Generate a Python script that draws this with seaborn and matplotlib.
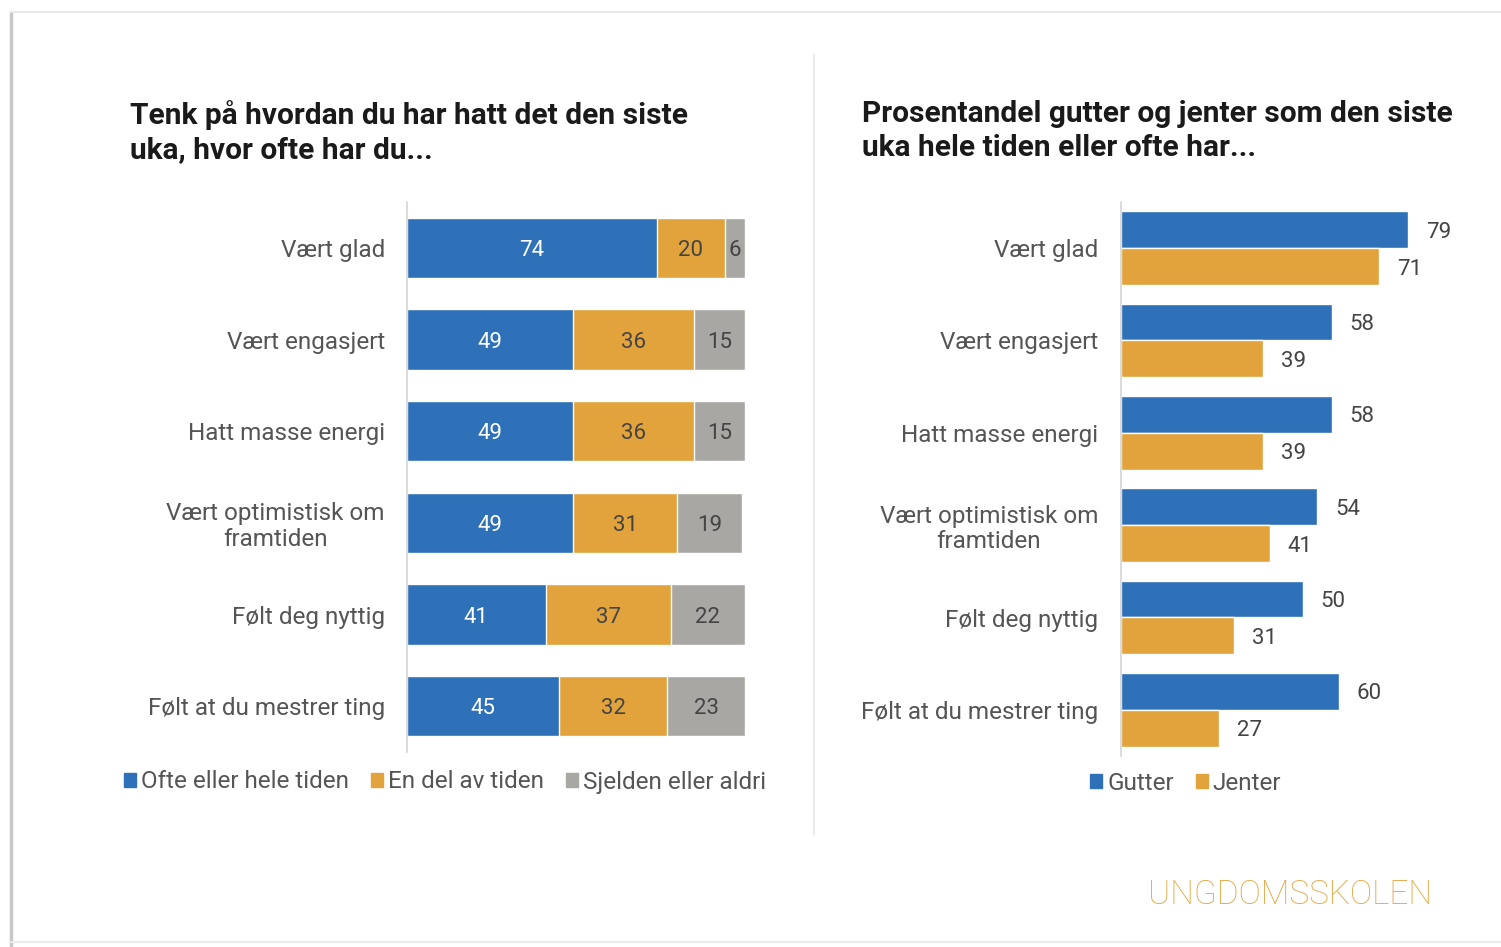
import numpy as np
import pandas as pd
import matplotlib
matplotlib.use("Agg")
import matplotlib.pyplot as plt
import seaborn as sns
from matplotlib.patches import Patch
from matplotlib.lines import Line2D

sns.set_theme(style="white")
plt.rcParams["font.family"] = ["Roboto", "DejaVu Sans"]

# ---- data ----
questions = ["Vært glad", "Vært engasjert", "Hatt masse energi",
             "Vært optimistisk om\nframtiden", "Følt deg nyttig",
             "Følt at du mestrer ting"]
often = [74, 49, 49, 49, 41, 45]
some = [20, 36, 36, 31, 37, 32]
rarely = [6, 15, 15, 19, 22, 23]
freq_labels = ["Ofte eller hele tiden", "En del av tiden", "Sjelden eller aldri"]

boys = [79, 58, 58, 54, 50, 60]
girls = [71, 39, 39, 41, 31, 27]
gender_labels = ["Gutter", "Jenter"]

title_left = "Tenk på hvordan du har hatt det den siste\nuka, hvor ofte har du..."
title_right = "Prosentandel gutter og jenter som den siste\nuka hele tiden eller ofte har..."

BLUE = "#2E71B8"
ORANGE = "#E2A33C"
GREY = "#A9A7A4"
DARK = "#444444"
LABEL = "#555555"

W, H = 1501, 947
fig = plt.figure(figsize=(W / 100, H / 100), dpi=100)


def px_axes(x0, y0, x1, y1):
    return fig.add_axes([x0 / W, 1 - y1 / H, (x1 - x0) / W, (y1 - y0) / H])


def style_axes(ax, pad):
    ax.set_xlim(0, 100)
    ax.set_ylim(5.5, -0.5)
    ax.set_xlabel("")
    ax.set_ylabel("")
    ax.set_xticks([])
    for s in ["top", "right", "bottom"]:
        ax.spines[s].set_visible(False)
    ax.spines["left"].set_color("#d4d4d4")
    ax.spines["left"].set_linewidth(1.2)
    ax.tick_params(axis="y", length=0, pad=pad, labelsize=17.5, labelcolor=LABEL)
    for lab in ax.get_yticklabels():
        lab.set_multialignment("center")
        lab.set_linespacing(1.15)


# ==========================
# LEFT: stacked bars
# ==========================
ax1 = px_axes(407, 202, 745, 752)
left_df = pd.DataFrame({"q": questions, "often": often, "some": some, "rarely": rarely})
left_df["cum_some"] = left_df["often"] + left_df["some"]
left_df["cum_all"] = left_df["cum_some"] + left_df["rarely"]

for col, color in [("cum_all", GREY), ("cum_some", ORANGE), ("often", BLUE)]:
    sns.barplot(data=left_df, x=col, y="q", color=color, width=0.66,
                saturation=1, errorbar=None, orient="h", ax=ax1)

for i, row in left_df.iterrows():
    ax1.text(row["often"] / 2, i, str(row["often"]), ha="center",
             va="center_baseline", color="white", fontsize=16)
    ax1.text(row["often"] + row["some"] / 2, i, str(row["some"]), ha="center",
             va="center_baseline", color=DARK, fontsize=16)
    ax1.text(row["cum_some"] + row["rarely"] / 2, i, str(row["rarely"]),
             ha="center", va="center_baseline", color=DARK, fontsize=16)

style_axes(ax1, 16)

# ==========================
# RIGHT: grouped bars
# ==========================
ax2 = px_axes(1121, 202, 1484, 756)
right_df = pd.DataFrame({
    "q": questions * 2,
    "gender": [gender_labels[0]] * len(boys) + [gender_labels[1]] * len(girls),
    "value": boys + girls,
})
sns.barplot(data=right_df, x="value", y="q", hue="gender", hue_order=gender_labels,
            palette=[BLUE, ORANGE], saturation=1, width=0.8, errorbar=None,
            orient="h", legend=False, ax=ax2)
for cont in ax2.containers:
    for t in ax2.bar_label(cont, padding=13, fontsize=16, color=DARK):
        t.set_va("center_baseline")

style_axes(ax2, 16.5)

# ==========================
# TITLES / LEGENDS / DECOR
# ==========================
fig.text(130 / W, 1 - 100 / H, title_left, ha="left", va="top", fontsize=21.5,
         fontweight="bold", color="#1a1a1a", linespacing=1.27)
fig.text(862 / W, 1 - 100 / H, title_right, ha="left", va="top", fontsize=21.5,
         fontweight="bold", color="#1a1a1a", linespacing=1.27)

h1 = [Patch(color=c) for c in [BLUE, ORANGE, GREY]]
fig.legend(h1, freq_labels, loc="center left", bbox_to_anchor=(124 / W, 1 - 782 / H),
           ncol=3, frameon=False, fontsize=17.5, labelcolor=LABEL, handlelength=0.5,
           handleheight=0.5, handletextpad=0.2, columnspacing=0.9, borderpad=0,
           borderaxespad=0)

h2 = [Patch(color=c) for c in [BLUE, ORANGE]]
fig.legend(h2, gender_labels, loc="center left", bbox_to_anchor=(1090 / W, 1 - 783 / H),
           ncol=2, frameon=False, fontsize=17.5, labelcolor=LABEL, handlelength=0.5,
           handleheight=0.5, handletextpad=0.2, columnspacing=0.9, borderpad=0,
           borderaxespad=0)

fig.text(1432 / W, 1 - 895 / H, "UNGDOMSSKOLEN", ha="right", va="center",
         fontsize=24, color="#E3A73F", fontweight="light")

# divider and page frame
fig.add_artist(Line2D([814 / W, 814 / W], [1 - 55 / H, 1 - 835 / H],
                      color="#e6e6e6", lw=1.2))
fig.add_artist(Line2D([11 / W, 11 / W], [1 - 12 / H, 0], color="#c8c8c8", lw=2.5))
fig.add_artist(Line2D([11 / W, 1], [1 - 12 / H, 1 - 12 / H], color="#e8e8e8", lw=1.5))
fig.add_artist(Line2D([11 / W, 1], [1 - 942 / H, 1 - 942 / H], color="#ececec", lw=1.5))

fig.savefig("out.png", dpi=100)
